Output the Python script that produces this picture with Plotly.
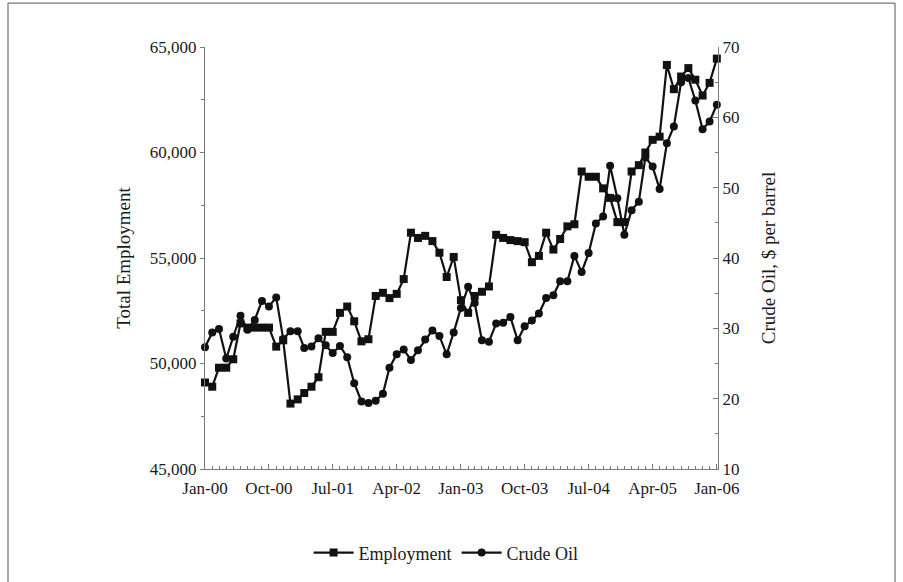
import plotly.graph_objects as go
import pandas as pd

# Monthly observations, January 2000 through January 2006
months = pd.date_range("2000-01-01", "2006-01-01", freq="MS")

# Total employment (left axis)
employment = [
    49100, 48900, 49800, 49800, 50200, 51900, 51700, 51700, 51700, 51700, 50800, 51100,  # 2000
    48100, 48300, 48600, 48900, 49350, 51500, 51500, 52400, 52700, 52000, 51050, 51150,  # 2001
    53200, 53350, 53100, 53300, 54000, 56200, 55950, 56050, 55800, 55250, 54100, 55050,  # 2002
    53000, 52400, 53200, 53400, 53650, 56100, 55950, 55850, 55800, 55750, 54800, 55100,  # 2003
    56200, 55400, 55900, 56500, 56600, 59100, 58850, 58850, 58300, 57850, 56700, 56700,  # 2004
    59100, 59400, 60000, 60600, 60750, 64150, 63000, 63600, 64000, 63450, 62700, 63300,  # 2005
    64450,                                                                               # 2006
]

# Crude oil price, $ per barrel (right axis)
crude_oil = [
    27.3, 29.4, 29.9, 25.7, 28.8, 31.8, 29.8, 31.2, 33.9, 33.1, 34.4, 28.5,  # 2000
    29.6, 29.6, 27.2, 27.4, 28.6, 27.6, 26.5, 27.5, 25.9, 22.2, 19.6, 19.4,  # 2001
    19.7, 20.7, 24.4, 26.3, 27.0, 25.5, 26.9, 28.4, 29.7, 28.9, 26.3, 29.4,  # 2002
    32.9, 35.9, 33.6, 28.3, 28.1, 30.7, 30.8, 31.6, 28.3, 30.3, 31.1, 32.1,  # 2003
    34.3, 34.7, 36.7, 36.7, 40.3, 38.0, 40.7, 44.9, 45.9, 53.1, 48.5, 43.3,  # 2004
    46.8, 48.0, 54.3, 53.0, 49.8, 56.3, 58.7, 65.0, 65.6, 62.4, 58.3, 59.4,  # 2005
    61.8,                                                                    # 2006
]

tick_labels = ["Jan-00", "Oct-00", "Jul-01", "Apr-02", "Jan-03",
               "Oct-03", "Jul-04", "Apr-05", "Jan-06"]
tick_dates = list(months[::9])

emp_ticks = [45000, 50000, 55000, 60000, 65000]
oil_ticks = [10, 20, 30, 40, 50, 60, 70]

FONT = "Liberation Serif, Times New Roman, serif"
INK = "#111111"
AXIS = "#7a7a7a"
TICK_FONT = dict(family=FONT, size=17, color="#1a1a1a")
TITLE_FONT = dict(family=FONT, size=19, color="#1a1a1a")

fig = go.Figure()
fig.add_trace(go.Scatter(
    x=months, y=employment, name="Employment", mode="lines+markers",
    line=dict(color=INK, width=2.2),
    marker=dict(symbol="square", size=8, color=INK),
    cliponaxis=False,
))
fig.add_trace(go.Scatter(
    x=months, y=crude_oil, name="Crude Oil", mode="lines+markers", yaxis="y2",
    line=dict(color=INK, width=2.2),
    marker=dict(symbol="circle", size=8, color=INK),
    cliponaxis=False,
))

fig.update_layout(
    width=903, height=582,
    margin=dict(l=205, r=185, t=47, b=112),
    paper_bgcolor="white", plot_bgcolor="white",
    font=dict(family=FONT, size=16, color="#1a1a1a"),
    showlegend=True,
    legend=dict(orientation="h", x=0.47, xanchor="center", y=-0.196, yanchor="middle",
                font=dict(family=FONT, size=18, color="#1a1a1a"),
                itemwidth=40, traceorder="normal"),
    xaxis=dict(
        range=[months[0], pd.Timestamp("2006-01-06")],
        tickvals=tick_dates, ticktext=tick_labels, tickfont=TICK_FONT,
        ticks="inside", ticklen=5, tickcolor=AXIS, ticklabelstandoff=4,
        minor=dict(ticks="inside", ticklen=3, dtick="M1", tick0="2000-01-01", tickcolor=AXIS),
        showline=True, linecolor=AXIS, linewidth=1,
        showgrid=False, zeroline=False,
    ),
    yaxis=dict(
        range=[45000, 65000], tickvals=emp_ticks, tickformat=",", tickfont=TICK_FONT,
        ticks="outside", ticklen=4, tickcolor=AXIS,
        minor=dict(ticks="outside", ticklen=3, dtick=2500, tickcolor=AXIS),
        showline=True, linecolor=AXIS, linewidth=1,
        showgrid=False, zeroline=False,
        title=dict(text="Total Employment", standoff=14, font=TITLE_FONT),
    ),
    yaxis2=dict(
        range=[10, 70], tickvals=oil_ticks, overlaying="y", side="right", tickfont=TICK_FONT,
        ticks="inside", ticklen=5, tickcolor=AXIS,
        minor=dict(ticks="inside", ticklen=3, dtick=5, tickcolor=AXIS),
        showline=True, linecolor=AXIS, linewidth=1,
        showgrid=False, zeroline=False,
        title=dict(text="Crude Oil, $ per barrel", standoff=23, font=TITLE_FONT),
    ),
    shapes=[dict(type="rect", xref="paper", yref="paper",
                 x0=(8 - 205) / 513, x1=(895 - 205) / 513,
                 y0=(470 - 600) / 423, y1=(470 - 3) / 423,
                 line=dict(color="#555555", width=1), layer="below")],
)

fig.write_html("out.html")
